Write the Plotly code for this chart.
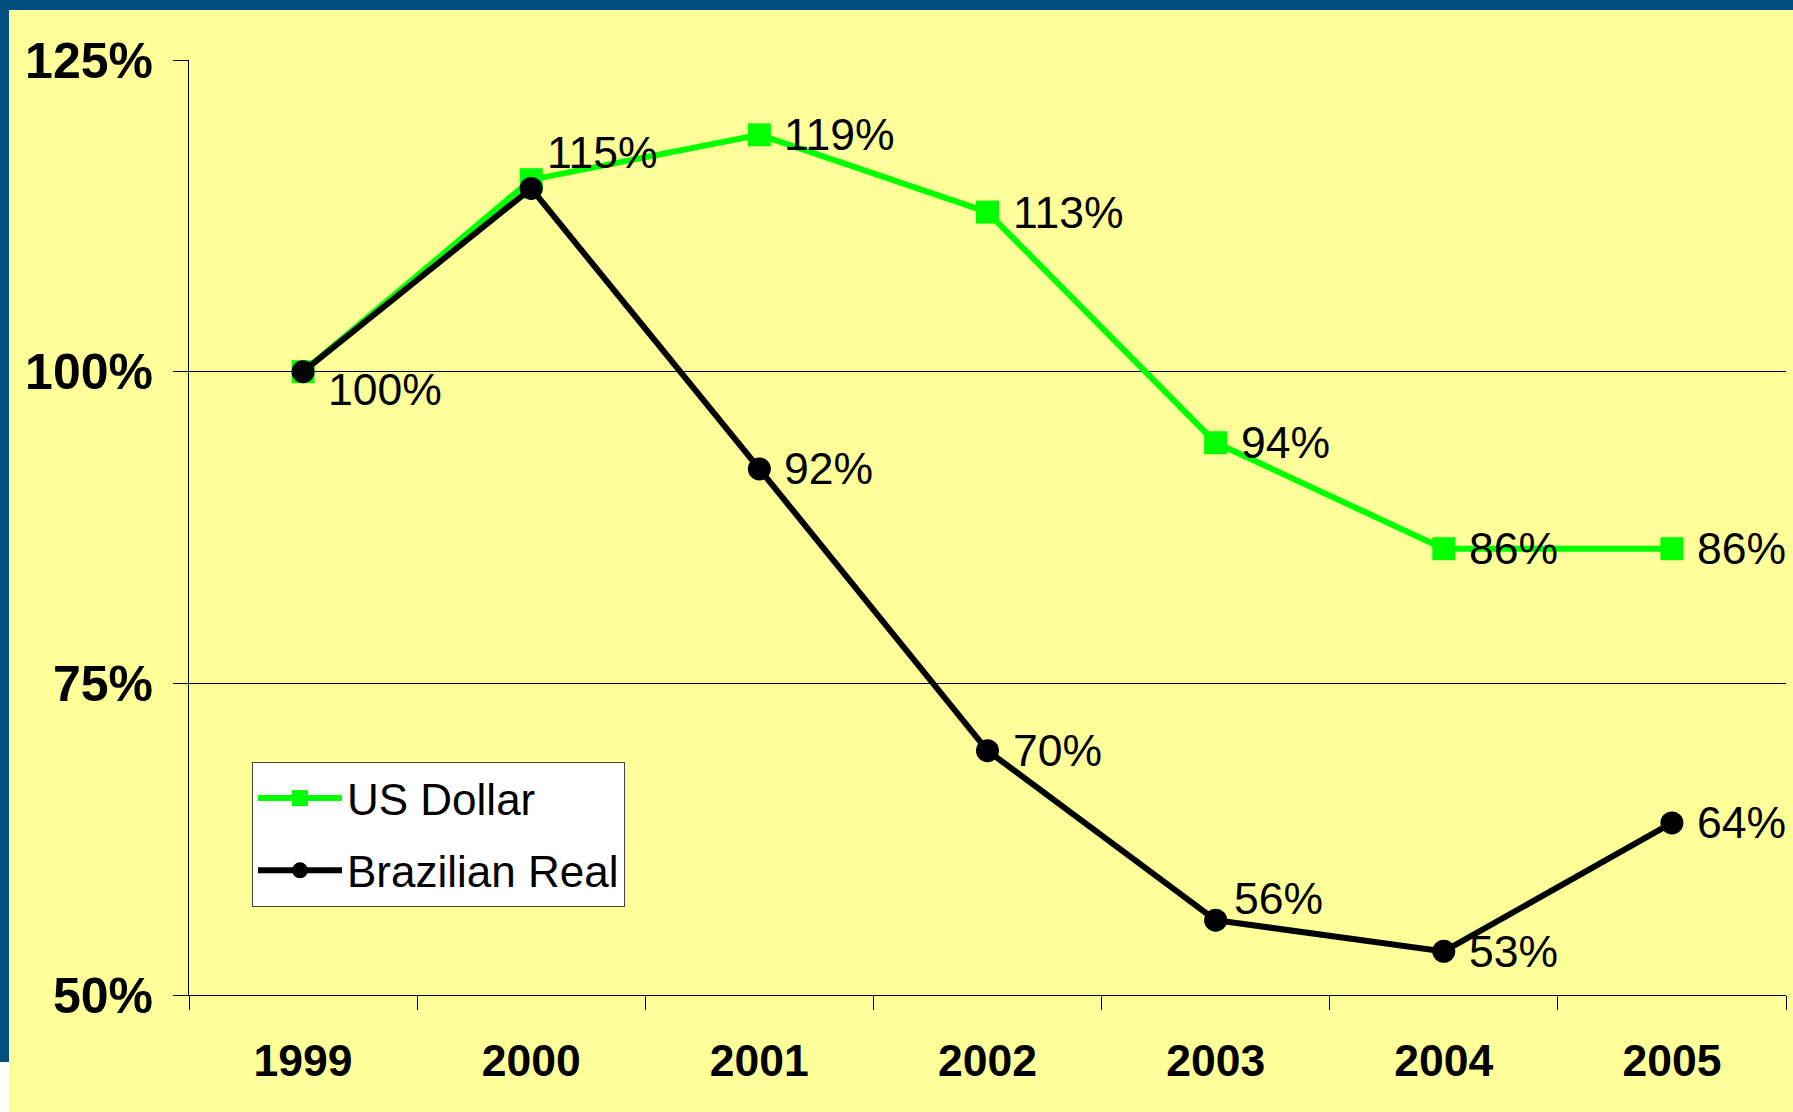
import plotly.graph_objects as go

# ---- data ----
years = ["1999", "2000", "2001", "2002", "2003", "2004", "2005"]
usd_values = [100, 115.4, 119.0, 112.8, 94.3, 85.8, 85.8]
brl_values = [100, 114.7, 92.2, 69.6, 56.0, 53.5, 63.8]
usd_labels = ["100%", "115%", "119%", "113%", "94%", "86%", "86%"]
brl_labels = ["", "", "92%", "70%", "56%", "53%", "64%"]
y_ticks = [50, 75, 100, 125]
y_tick_labels = ["50%", "75%", "100%", "125%"]

# label placement styles (not data)
usd_label_place = ["below", "above", "right", "right", "right", "right", "right"]
brl_label_place = ["right", "right", "right", "right", "above2", "right", "right"]
PLACE = {
    "right": (23, 0),
    "below": (23, -18),
    "above": (14, 27),
    "above2": (16, 22),
}

FONT = "Liberation Sans, Arial, sans-serif"
YELLOW = "#FFFF99"
BLUE = "#004D7F"

fig = go.Figure()
fig.add_trace(go.Scatter(
    x=years, y=usd_values, name="US Dollar", mode="lines+markers",
    line=dict(color="#00FF00", width=6),
    marker=dict(symbol="square", size=23, color="#00FF00"),
    legendgroup="a",
))
fig.add_trace(go.Scatter(
    x=years, y=brl_values, name="Brazilian Real", mode="lines+markers",
    line=dict(color="#000000", width=6),
    marker=dict(symbol="circle", size=23, color="#000000"),
    legendgroup="b",
))

annotations = []
for vals, labs, places in ((usd_values, usd_labels, usd_label_place),
                           (brl_values, brl_labels, brl_label_place)):
    for i, (y, t, p) in enumerate(zip(vals, labs, places)):
        if not t:
            continue
        dx, dy = PLACE[p]
        annotations.append(dict(
            x=i, y=y, xref="x", yref="y", text=t, showarrow=False,
            xanchor="left", yanchor="middle",
            xshift=dx, yshift=dy, font=dict(family=FONT, size=44.5, color="#000000"),
        ))

# frame decoration (paper coords relative to plot area)
L, R, T, B = 189, 7, 60, 117
W, H = 1793, 1112
pw, ph = W - L - R, H - T - B
def px_x(px):
    return (px - L) / pw
def px_y(py):
    return (H - B - py) / ph

shapes = [
    dict(type="rect", xref="paper", yref="paper", x0=px_x(-20), x1=px_x(W + 20),
         y0=px_y(10), y1=px_y(-20), fillcolor=BLUE, line=dict(width=0), layer="below"),
    dict(type="rect", xref="paper", yref="paper", x0=px_x(-20), x1=px_x(9),
         y0=px_y(1062), y1=px_y(-20), fillcolor=BLUE, line=dict(width=0), layer="below"),
    dict(type="rect", xref="paper", yref="paper", x0=px_x(-20), x1=px_x(9),
         y0=px_y(H + 20), y1=px_y(1062), fillcolor="#FFFFFF", line=dict(width=0), layer="below"),
]

fig.update_layout(
    width=W, height=H,
    margin=dict(l=L, r=R, t=T, b=B),
    paper_bgcolor=YELLOW, plot_bgcolor=YELLOW,
    font=dict(family=FONT, color="#000000"),
    showlegend=True,
    legend=dict(
        x=px_x(252), y=px_y(762), xanchor="left", yanchor="top",
        bgcolor="#FFFFFF", bordercolor="#444444", borderwidth=1,
        font=dict(family=FONT, size=44, color="#000000"),
        traceorder="grouped", tracegroupgap=12, itemwidth=84,
    ),
    xaxis=dict(
        type="category", range=[-0.5, 6.5], tickson="boundaries",
        ticks="outside", ticklen=14, tickcolor="#000000", tickwidth=1,
        showline=True, linecolor="#000000", linewidth=1,
        showgrid=False, zeroline=False,
        tickfont=dict(family=FONT, size=44.5, color="#000000", weight="bold"),
        ticklabelstandoff=27,
    ),
    yaxis=dict(
        range=[50, 125], tickvals=y_ticks, ticktext=y_tick_labels,
        ticks="outside", ticklen=15, tickcolor="#000000", tickwidth=1,
        showline=True, linecolor="#000000", linewidth=1,
        showgrid=True, gridcolor="#000000", gridwidth=1, zeroline=False,
        tickfont=dict(family=FONT, size=50, color="#000000", weight="bold"),
        ticklabelstandoff=10,
    ),
    annotations=annotations,
    shapes=shapes,
)

fig.write_html("out.html", config={"displayModeBar": False},
               post_script="document.body.style.margin='0';")
